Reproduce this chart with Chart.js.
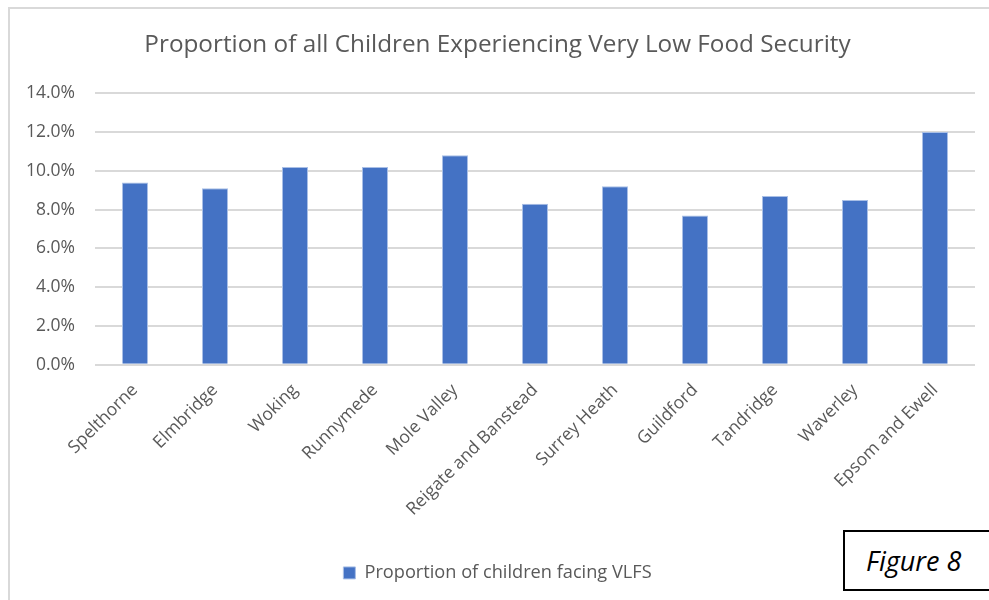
<!DOCTYPE html>
<html>
<head>
<meta charset="utf-8">
<script src="https://cdn.jsdelivr.net/npm/chart.js@4/dist/chart.umd.min.js"></script>
<style>
  html, body { margin: 0; padding: 0; background: #fff; }
  #wrap { position: relative; width: 989px; height: 600px; overflow: hidden; }
  #frame { position: absolute; left: 8px; top: 7px; width: 1200px; height: 800px; border: 2px solid #d9d9d9; box-sizing: border-box; }
  canvas { position: absolute; left: 0; top: 0; }
  #fig { position: absolute; left: 843px; top: 530px; width: 160px; height: 61px; border: 2px solid #000; box-sizing: border-box; background: #fff;
         font-family: "Open Sans", sans-serif; font-style: italic; font-size: 27px; color: #000; line-height: 57px; padding-left: 21px; }
</style>
</head>
<body>
<div id="wrap">
  <div id="frame"></div>
  <canvas id="c" width="989" height="600"></canvas>
  <div id="fig">Figure 8</div>
</div>
<script>
const categories = ["Spelthorne", "Elmbridge", "Woking", "Runnymede", "Mole Valley", "Reigate and Banstead", "Surrey Heath", "Guildford", "Tandridge", "Waverley", "Epsom and Ewell"];
const vlfsValues = [0.094, 0.091, 0.102, 0.102, 0.108, 0.083, 0.092, 0.077, 0.087, 0.085, 0.120];
const yTicks = [0, 0.02, 0.04, 0.06, 0.08, 0.10, 0.12, 0.14];
const seriesLabel = "Proportion of children facing VLFS";
const chartTitle = "Proportion of all Children Experiencing Very Low Food Security";

const FONT = '"Open Sans", sans-serif';
const GREY = '#595959';

new Chart(document.getElementById('c'), {
  type: 'bar',
  data: {
    labels: categories,
    datasets: [{
      label: seriesLabel,
      data: vlfsValues,
      backgroundColor: '#4472c4',
      borderColor: '#a9bfe6',
      borderWidth: 1,
      barPercentage: 0.65,
      categoryPercentage: 0.5
    }]
  },
  options: {
    responsive: false,
    animation: false,
    layout: { padding: { left: 20, right: 14, top: 0, bottom: 8 } },
    plugins: {
      title: {
        display: true,
        text: chartTitle,
        color: GREY,
        font: { family: FONT, size: 24.3, weight: 'normal' },
        padding: { top: 30.5, bottom: 33.5 }
      },
      legend: {
        position: 'bottom',
        labels: {
          color: GREY,
          font: { family: FONT, size: 18.2 },
          boxWidth: 12, boxHeight: 12,
          padding: 10
        }
      },
      tooltip: { enabled: false }
    },
    scales: {
      x: {
        grid: { display: false, drawTicks: false },
        border: { display: false },
        ticks: { color: GREY, font: { family: FONT, size: 17.5 }, minRotation: 45, maxRotation: 45, padding: 15, autoSkip: false },
        afterFit: (s) => { s.height = 189; }
      },
      y: {
        min: 0, max: 0.14,
        afterBuildTicks: (s) => { s.ticks = yTicks.map(v => ({ value: v })); },
        grid: { color: '#d9d9d9', lineWidth: 2, drawTicks: false },
        border: { display: false },
        ticks: {
          color: GREY, font: { family: FONT, size: 17.5 }, padding: 20,
          callback: (v) => (v * 100).toFixed(1) + '%'
        },
        afterFit: (s) => { s.width = 75; }
      }
    }
  }
});
</script>
</body>
</html>
